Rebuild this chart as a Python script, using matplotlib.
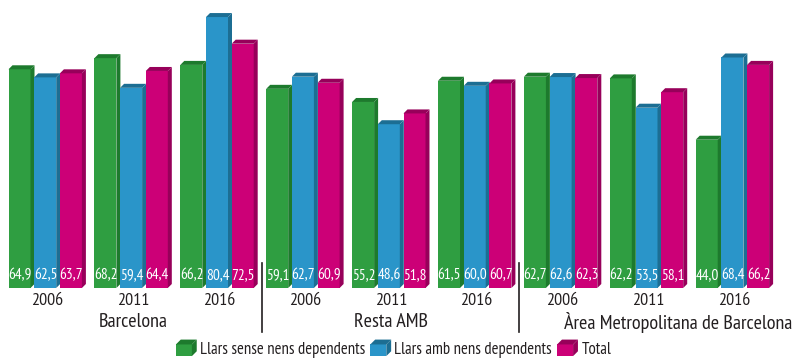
import numpy as np
import matplotlib.pyplot as plt
from matplotlib.patches import Polygon, Rectangle, Patch
from matplotlib.legend_handler import HandlerBase

# Data
years = ['2006', '2011', '2016']
regions = ['Barcelona', 'Resta AMB', 'Àrea Metropolitana de Barcelona']
series_names = ['Llars sense nens dependents', 'Llars amb nens dependents', 'Total']
sense_nens = [64.9, 68.2, 66.2, 59.1, 55.2, 61.5, 62.7, 62.2, 44.0]
amb_nens = [62.5, 59.4, 80.4, 62.7, 48.6, 60.0, 62.6, 53.5, 68.4]
total = [63.7, 64.4, 72.5, 60.9, 51.8, 60.7, 62.3, 58.1, 66.2]

front_colors = ['#2f9e41', '#2a95c9', '#cc0077']
dark_colors = ['#1d7a2d', '#1c6e93', '#97005a']
text_color = '#231f20'

plt.rcParams['font.family'] = ['PT Sans Narrow', 'Liberation Sans Narrow', 'DejaVu Sans']

# layout (pixels on x, values on y)
W, H = 795, 360
x_start, slot_w, pitch, bar_w, depth_px = 8.5, 85.9, 25.7, 22.0, 4.0
base_px = 288
px_per_unit = 3.37

fig = plt.figure(figsize=(W / 100, H / 100), dpi=100)
ax = fig.add_axes([0, 0, 1, 1])
ax.set_xlim(0, W)
ax.set_ylim(-(H - base_px) / px_per_unit, base_px / px_per_unit)
ax.axis('off')

dx = depth_px
dy = depth_px / px_per_unit

all_series = [sense_nens, amb_nens, total]
for slot in range(len(sense_nens)):
    for s, vals in enumerate(all_series):
        v = vals[slot]
        x0 = x_start + slot * slot_w + s * pitch
        z = 3 + slot * 3 + s
        ax.bar(x0, v, width=bar_w, align='edge', color=front_colors[s], linewidth=0, zorder=z)
        top = Polygon([(x0, v), (x0 + dx, v + dy), (x0 + bar_w + dx, v + dy), (x0 + bar_w, v)],
                      closed=True, fc=dark_colors[s], ec='none', zorder=z)
        side = Polygon([(x0 + bar_w, 0), (x0 + bar_w + dx, dy), (x0 + bar_w + dx, v + dy), (x0 + bar_w, v)],
                       closed=True, fc=dark_colors[s], ec='none', zorder=z)
        ax.add_patch(top)
        ax.add_patch(side)
        ax.text(x0 + bar_w / 2 + 0.5, 3.8, f'{v:.1f}'.replace('.', ','), ha='center', va='center',
                color='white', fontsize=11, zorder=100)

# year labels
group_w = 2 * pitch + bar_w + dx
for slot in range(len(sense_nens)):
    xc = x_start + slot * slot_w + group_w / 2
    ax.text(xc, -3.85, years[slot % 3], ha='center', va='center', fontsize=13, color=text_color)

# region labels and separators
for g, name in enumerate(regions):
    xc = x_start + (3 * g + 1) * slot_w + group_w / 2
    if g == 2:
        ax.text(W - 3, -10.1, name, ha='right', va='center', fontsize=14.5, color=text_color)
    else:
        ax.text(xc, -10.1, name, ha='center', va='center', fontsize=14.5, color=text_color)
for g in (1, 2):
    xs = x_start + 3 * g * slot_w - 4.5
    ax.plot([xs, xs], [(base_px - 263) / px_per_unit, -(332 - base_px) / px_per_unit],
            color=text_color, lw=1.2)


class CubeHandler(HandlerBase):
    def create_artists(self, legend, orig_handle, xdescent, ydescent, width, height, fontsize, trans):
        fc = orig_handle.get_facecolor()
        dc = orig_handle.get_edgecolor()
        d = 3.5
        x0, y0 = -xdescent, -ydescent
        w, h = width - d, height - d
        front = Rectangle((x0, y0), w, h, fc=fc, ec='none', transform=trans)
        top = Polygon([(x0, y0 + h), (x0 + d, y0 + h + d), (x0 + w + d, y0 + h + d), (x0 + w, y0 + h)],
                      closed=True, fc=dc, ec='none', transform=trans)
        side = Polygon([(x0 + w, y0), (x0 + w + d, y0 + d), (x0 + w + d, y0 + h + d), (x0 + w, y0 + h)],
                       closed=True, fc=dc, ec='none', transform=trans)
        return [front, top, side]


handles = [Patch(facecolor=front_colors[i], edgecolor=dark_colors[i]) for i in range(3)]
fig.legend(handles, series_names, handler_map={Patch: CubeHandler()}, loc='lower center',
           bbox_to_anchor=(0.495, 0.0), ncol=3, frameon=False, fontsize=12,
           handlelength=1.25, handleheight=1.15, handletextpad=0.2, columnspacing=0.3,
           borderpad=0.15, borderaxespad=0, labelcolor=text_color)

fig.savefig('out.png', dpi=100)
